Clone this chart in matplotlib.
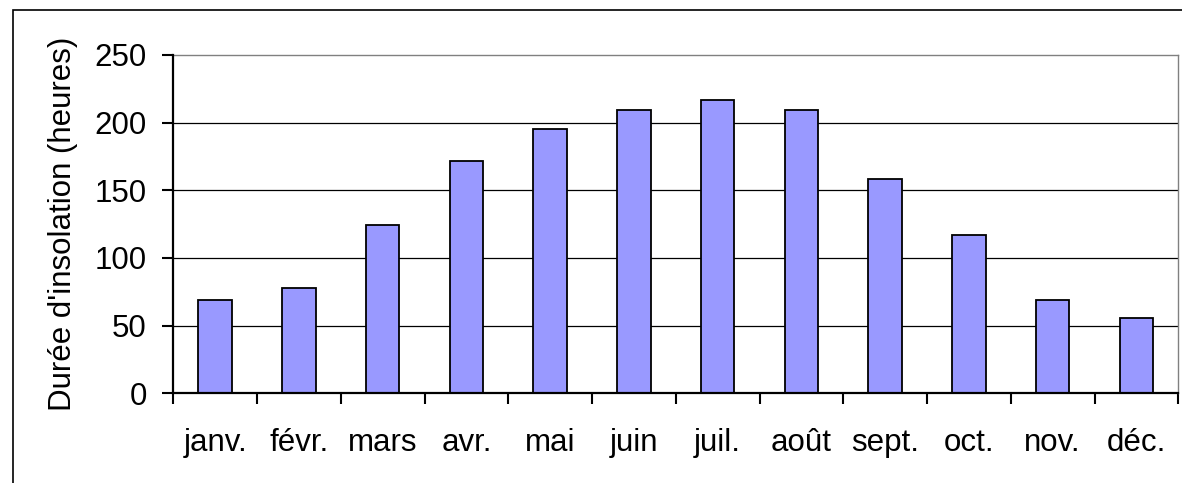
import matplotlib
matplotlib.use("Agg")
import matplotlib.pyplot as plt
from matplotlib.patches import Rectangle
import numpy as np

months = ["janv.", "févr.", "mars", "avr.", "mai", "juin", "juil.", "août", "sept.", "oct.", "nov.", "déc."]
hours = [69, 78, 124.5, 172, 195, 209, 217, 209, 158.5, 117, 69, 55.5]
yticks = [0, 50, 100, 150, 200, 250]

plt.rcParams['font.family'] = ['Liberation Sans', 'DejaVu Sans']
FS = 22.5

fig = plt.figure(figsize=(11.82, 4.83), dpi=100)
W, H = 1182, 483
ax = fig.add_axes([173.3 / W, 1 - 393.3 / H, (1178.3 - 173.3) / W, (393.3 - 55) / H])

x = np.arange(len(months))
ax.bar(x, hours, width=0.40, color="#9999FF", edgecolor="black", linewidth=1.3, zorder=3)

ax.set_xlim(-0.5, len(months) - 0.5)
ax.set_ylim(0, 250)
ax.set_yticks(yticks)
ax.set_yticklabels([str(v) for v in yticks], fontsize=FS)
ax.set_xticks(x)
ax.set_xticklabels(months, fontsize=FS)
ax.tick_params(axis='x', which='major', length=0, pad=25)
ax.set_xticks(np.arange(-0.5, len(months), 1.0), minor=True)
ax.tick_params(axis='x', which='minor', length=8, width=1.5, direction='out')
ax.tick_params(axis='y', length=8, width=1.5, direction='out', pad=11)

for v in yticks[1:-1]:
    ax.axhline(v, color='black', linewidth=0.9, zorder=1)

for s in ['left', 'bottom']:
    ax.spines[s].set_linewidth(1.6)
    ax.spines[s].set_color('black')
for s in ['top', 'right']:
    ax.spines[s].set_linewidth(1.0)
    ax.spines[s].set_color('#808080')
ax.spines['left'].set_zorder(4)
ax.spines['bottom'].set_zorder(4)

ax.set_ylabel("Durée d'insolation (heures)", fontsize=FS, labelpad=12)

frame = Rectangle((13 / W, -0.1), 1.2, (1 - 10 / H) + 0.1, transform=fig.transFigure,
                  fill=False, edgecolor='black', linewidth=1.2, zorder=0)
fig.patches.append(frame)

fig.savefig("out.png", dpi=100)
